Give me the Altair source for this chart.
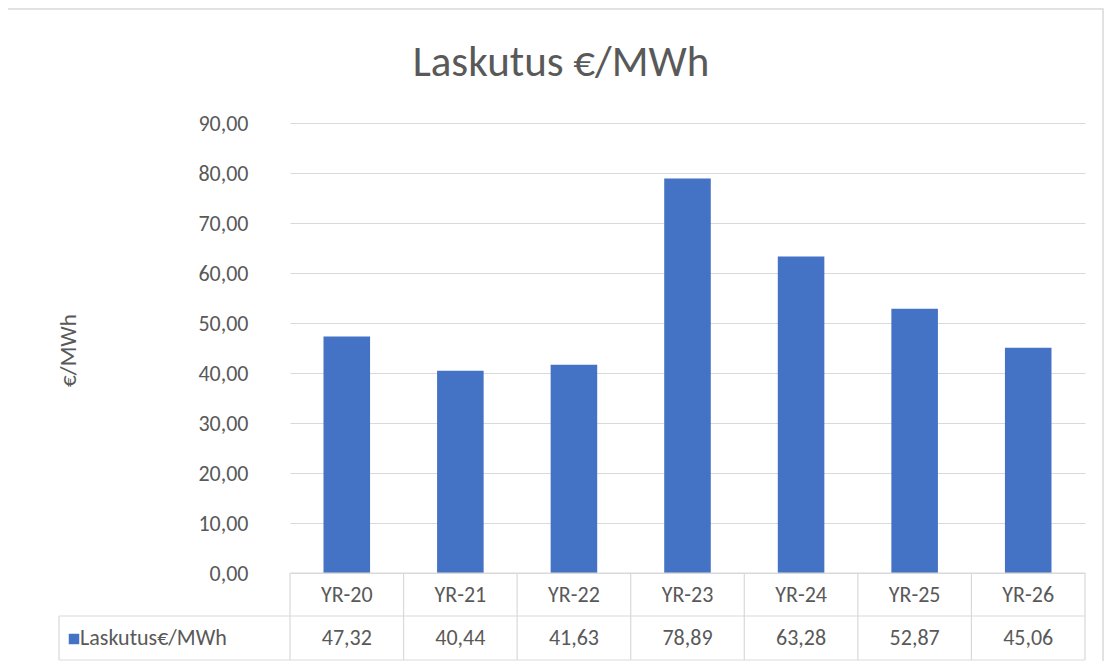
import altair as alt
import pandas as pd

categories = ["YR-20", "YR-21", "YR-22", "YR-23", "YR-24", "YR-25", "YR-26"]
values = [47.32, 40.44, 41.63, 78.89, 63.28, 52.87, 45.06]
series_name = "Laskutus€/MWh"
chart_title = "Laskutus €/MWh"
y_title = "€/MWh"
y_ticks = [0, 10, 20, 30, 40, 50, 60, 70, 80, 90]

df = pd.DataFrame({
    "cat": categories,
    "val": values,
    "label": [f"{v:.2f}".replace(".", ",") for v in values],
})

FONT = "Carlito, Lato"
TXT = "#595959"
LINE = "#d9d9d9"
BLUE = "#4472C4"
W, H = 795, 450

xs = alt.Scale(domain=categories, paddingInner=0, paddingOuter=0)
ys = alt.Scale(domain=[0, 90], nice=False)

base = alt.Chart(df)

frame = alt.Chart(pd.DataFrame({"f": [1]})).mark_rect(
    fill="white", fillOpacity=0, stroke=LINE, strokeWidth=1.5
).encode(x=alt.value(-283), x2=alt.value(813), y=alt.value(-114), y2=alt.value(545))

bars = base.mark_bar(color=BLUE, width={"band": 0.41}).encode(
    x=alt.X("cat:N", scale=xs, axis=None, sort=categories),
    y=alt.Y(
        "val:Q",
        scale=ys,
        axis=alt.Axis(
            values=y_ticks,
            labelExpr="replace(format(datum.value, '.2f'), '.', ',')",
            domain=False,
            ticks=False,
            gridColor=LINE,
            gridWidth=1.2,
            labelFont=FONT,
            labelFontSize=22,
            labelColor=TXT,
            labelPadding=42,
            title=y_title,
            titleFont=FONT,
            titleFontSize=23,
            titleFontWeight="normal",
            titleColor=TXT,
            titleX=-222,
            titleY=227,
            titleAngle=-90,
            titleAlign="center",
            titleBaseline="middle",
        ),
    ),
)

title = alt.Chart(pd.DataFrame({"t": [chart_title]})).mark_text(
    font=FONT, fontSize=43, color=TXT, align="center", baseline="middle", fontWeight=300
).encode(text="t:N", x=alt.value(271), y=alt.value(-60))

# data table
vlines = base.mark_rule(color=LINE, strokeWidth=1.2).encode(
    x=alt.X("cat:N", scale=xs, sort=categories, bandPosition=0),
    y=alt.value(450), y2=alt.value(537),
)
vline_end = alt.Chart(df.tail(1)).mark_rule(color=LINE, strokeWidth=1.2).encode(
    x=alt.X("cat:N", scale=xs, sort=categories, bandPosition=1),
    y=alt.value(450), y2=alt.value(537),
)
hlines = alt.Chart(pd.DataFrame({"f": [1]})).mark_rule(color=LINE, strokeWidth=1.2)
h_top = hlines.encode(x=alt.value(0), x2=alt.value(W), y=alt.value(450))
h_mid = hlines.encode(x=alt.value(-231), x2=alt.value(W), y=alt.value(493))
h_bot = hlines.encode(x=alt.value(-231), x2=alt.value(W), y=alt.value(537))
v_left = hlines.encode(x=alt.value(-231), y=alt.value(493), y2=alt.value(537))

hdr = base.mark_text(font=FONT, fontSize=22, color=TXT, baseline="middle").encode(
    x=alt.X("cat:N", scale=xs, sort=categories), y=alt.value(471.5), text="cat:N"
)
vals = base.mark_text(font=FONT, fontSize=22, color=TXT, baseline="middle").encode(
    x=alt.X("cat:N", scale=xs, sort=categories), y=alt.value(515), text="label:N"
)
leg_df = pd.DataFrame({"s": [series_name]})
leg_sq = alt.Chart(leg_df).mark_square(color=BLUE, opacity=1, size=110).encode(
    x=alt.value(-216), y=alt.value(516)
)
leg_txt = alt.Chart(leg_df).mark_text(
    font=FONT, fontSize=22, color=TXT, align="left", baseline="middle"
).encode(x=alt.value(-210), y=alt.value(515), text="s:N")

chart = alt.layer(
    bars, frame, title, vlines, vline_end, h_top, h_mid, h_bot, v_left, hdr, vals, leg_sq, leg_txt
).properties(
    width=W, height=H,
    autosize=alt.AutoSizeParams(type="none"),
    padding={"left": 282, "top": 115, "right": 20, "bottom": 88},
).configure(background="white", view=alt.ViewConfig(stroke=None))

chart.save("out.html", embed_options={"renderer": "svg", "actions": False})
